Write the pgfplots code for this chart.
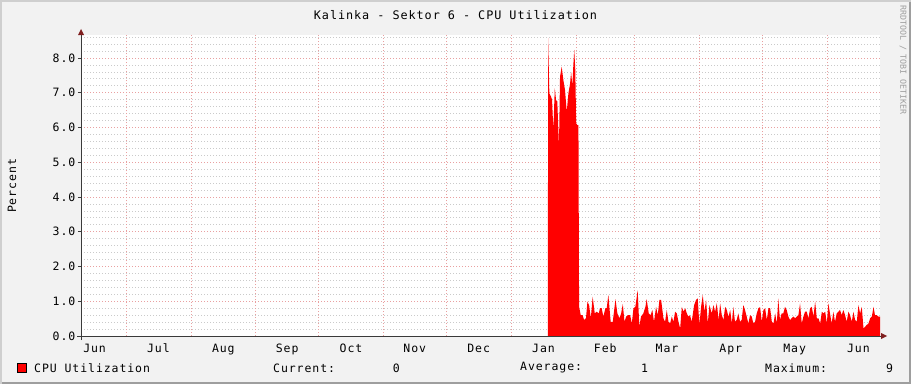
\documentclass[border=0pt]{standalone}
\usepackage{fontspec}
\setmainfont{DejaVu Sans Mono}[LetterSpace=8]
\newfontfamily\credfont{DejaVu Sans Mono}
\usepackage{pgfplots}
\pgfplotsset{compat=1.18}
\usetikzlibrary{arrows.meta}
\definecolor{bgc}{HTML}{F2F2F2}
\definecolor{shadea}{HTML}{CFCFCF}
\definecolor{shadeb}{HTML}{9E9E9E}
\definecolor{gridc}{HTML}{CACACA}
\definecolor{mgridc}{HTML}{E9A0A0}
\definecolor{arrowc}{HTML}{801F1F}
\definecolor{axisc}{HTML}{3A3A3A}
\newcommand{\lf}{\fontsize{11.5}{13}\selectfont}
\newcommand{\tf}{\fontsize{11.8}{13}\selectfont}
\begin{document}
\begin{tikzpicture}[x=1pt,y=1pt]
\useasboundingbox (0,0) rectangle (911,384);
\fill[bgc] (0,0) rectangle (911,384);
\fill[shadea] (0,0) rectangle (2,384);
\fill[shadea] (0,382) rectangle (911,384);
\fill[shadeb] (909,0) rectangle (911,382);
\fill[shadeb] (2,0) rectangle (911,2);
\begin{axis}[
  at={(81pt,48pt)}, anchor=south west, scale only axis,
  width=799pt, height=300.6pt,
  xmin=-21.5, xmax=360.3, ymin=0, ymax=8.65,
  axis background/.style={fill=white},
  axis line style={draw=none},
  xtick={-15,15.5,46.5,77,107.5,138,168.5,199.5,229,258.5,289,319.5,350},
  xticklabels={Jun,Jul,Aug,Sep,Oct,Nov,Dec,Jan,Feb,Mar,Apr,May,Jun},
  extra x ticks={0,31,62,92,123,153,184,215,243,274,304,335},
  extra x tick labels={},
  extra x tick style={grid=major, major tick length=0pt},
  ytick={0,1,2,3,4,5,6,7,8},
  yticklabels={0.0,1.0,2.0,3.0,4.0,5.0,6.0,7.0,8.0},
  minor ytick={0.2,0.4,0.6,0.8,1.2,1.4,1.6,1.8,2.2,2.4,2.6,2.8,3.2,3.4,3.6,3.8,4.2,4.4,4.6,4.8,5.2,5.4,5.6,5.8,6.2,6.4,6.6,6.8,7.2,7.4,7.6,7.8,8.2,8.4,8.6},
  ymajorgrids, yminorgrids,
  major grid style={mgridc, line width=0.7pt, dash pattern=on 1pt off 2pt},
  minor grid style={gridc, line width=0.7pt, dash pattern=on 1pt off 2pt},
  ytick pos=left, xtick pos=bottom, tick align=outside,
  major tick length=3pt, minor tick length=0pt,
  xtick style={draw=none},
  ytick style={axisc, line width=0.8pt},
  xticklabel style={font=\lf, anchor=north, inner sep=0pt, yshift=-4.5pt},
  yticklabel style={font=\lf, anchor=east, inner sep=0pt, xshift=-2.5pt},
]
\addplot[fill=red, draw=none] coordinates {
(-21.5,0) (201.6,0)
(201.7,8.57) (202.3,6.98) (203.1,6.89) (203.6,6.79) (204.2,5.93) (204.9,7.13) (205.5,6.79) (206.1,6.75) (206.9,5.45) (207.4,7.46) (208.2,7.75) (209.0,7.36) (209.8,7.07) (210.6,6.45) (211.4,6.98) (212.2,7.26) (212.7,7.60) (213.3,7.20) (213.8,7.84) (214.2,8.23) (214.7,7.65) (215.1,6.12) (215.7,6.07) (216.2,6.07)
(216.5,0.84) (217.3,0.60) (218.2,0.60) (218.9,0.46) (219.8,0.51) (220.5,0.99) (221.3,0.89) (222.1,0.51) (223.0,1.13) (224.0,0.65) (224.9,0.70) (225.9,0.65) (226.5,0.80) (227.3,0.80) (228.1,0.56) (229.1,0.80) (229.7,0.80) (230.5,1.18) (231.6,0.41) (232.6,0.41) (233.9,1.06) (234.8,0.65) (235.8,0.51) (236.6,0.65) (237.4,0.92) (238.2,0.41) (239.0,0.56) (239.9,0.60) (240.9,0.60) (241.7,0.36) (242.5,0.80) (243.4,0.84) (244.5,1.32) (245.3,0.27) (246.1,0.56) (247.2,0.65) (248.2,0.84) (248.8,1.06) (249.8,0.65) (250.7,0.60) (251.5,0.75) (252.3,0.41) (253.3,0.84) (254.1,0.60) (254.9,1.04) (255.7,1.04) (256.8,0.51) (257.6,0.41) (258.4,0.75) (259.2,0.41) (260.0,0.36) (260.8,0.56) (261.6,0.41) (262.4,0.70) (263.2,0.65) (264.0,0.41) (264.8,0.22) (265.6,0.84) (266.4,0.70) (267.2,0.80) (268.0,0.65) (268.7,0.56) (269.5,0.60) (270.3,0.41) (271.5,0.89) (272.4,1.04) (273.2,1.08) (274.0,0.32) (274.8,0.84) (275.6,1.18) (276.4,0.70) (277.2,1.04) (278.0,0.36) (278.8,0.89) (279.9,0.65) (280.7,0.89) (281.5,0.70) (282.3,0.94) (283.2,0.46) (283.9,0.94) (284.7,0.60) (285.5,0.46) (286.3,0.84) (287.1,0.75) (287.9,0.55) (288.7,0.75) (289.5,0.36) (290.2,0.84) (291.0,0.41) (291.8,0.46) (292.6,0.65) (293.4,0.41) (294.2,0.46) (295.0,0.89) (295.8,0.75) (296.6,0.56) (297.4,0.36) (298.2,0.60) (299.0,0.56) (299.8,0.36) (300.6,0.41) (301.4,0.65) (302.2,0.80) (303.0,0.83) (303.8,0.41) (304.6,0.75) (305.4,0.80) (306.2,0.46) (307.0,0.80) (307.8,0.80) (308.6,0.41) (309.4,0.36) (310.2,0.65) (311.0,0.36) (311.7,1.08) (312.5,0.46) (313.3,0.65) (314.1,0.65) (314.9,0.84) (315.7,0.75) (316.5,0.56) (317.3,0.46) (318.1,0.51) (318.9,0.56) (319.7,0.51) (320.5,0.56) (321.3,0.60) (322.1,0.94) (322.9,0.36) (323.7,0.56) (324.5,0.70) (325.3,0.70) (326.1,0.51) (326.9,0.80) (327.7,0.84) (328.5,0.56) (329.3,0.99) (330.1,0.51) (330.9,0.51) (331.7,0.36) (332.5,0.70) (333.3,0.65) (334.1,0.70) (334.9,0.36) (335.6,0.94) (336.4,0.65) (337.2,0.36) (338.0,0.70) (338.8,0.41) (339.6,0.65) (340.4,0.70) (341.2,0.75) (342.0,0.60) (342.8,0.75) (343.6,0.60) (344.4,0.41) (345.2,0.70) (346.0,0.60) (346.8,0.41) (347.6,0.70) (348.4,0.46) (349.2,0.41) (350.0,0.89) (350.8,0.65) (351.6,0.84) (352.4,0.22) (353.2,0.27) (354.0,0.32) (354.8,0.36) (355.6,0.51) (356.4,0.56) (357.2,0.84) (357.9,0.60) (358.7,0.60) (359.5,0.56) (360.3,0.56)
} \closedcycle;
\end{axis}
% axes with arrows
\draw[axisc, line width=0.8pt] (77,48) -- (882,48);
\fill[arrowc] (887,48) -- (881,45) -- (881,51) -- cycle;
\draw[axisc, line width=0.8pt] (81,44) -- (81,350);
\fill[arrowc] (81,355) -- (78,349) -- (84,349) -- cycle;
% title and labels
\node[font=\tf] at (455.5,369) {Kalinka - Sektor 6 - CPU Utilization};
\node[font=\lf, rotate=90] at (12,198) {Percent};
\node[font=\credfont\fontsize{8.3}{9}\selectfont, text=black!38, rotate=-90] at (903,324) {RRDTOOL / TOBI OETIKER};
% legend
\filldraw[fill=red, draw=black, line width=0.8pt] (17.5,11.5) rectangle (26.5,20.5);
\node[font=\lf, anchor=west, inner sep=0pt] at (34,16) {CPU Utilization};
\node[font=\lf, anchor=west, inner sep=0pt] at (273,16) {Current:};
\node[font=\lf, anchor=west, inner sep=0pt] at (392.7,16) {0};
\node[font=\lf, anchor=west, inner sep=0pt] at (520,16) {Average:};
\node[font=\lf, anchor=west, inner sep=0pt] at (641,16) {1};
\node[font=\lf, anchor=west, inner sep=0pt] at (765,16) {Maximum:};
\node[font=\lf, anchor=west, inner sep=0pt] at (886,16) {9};
\end{tikzpicture}
\end{document}
